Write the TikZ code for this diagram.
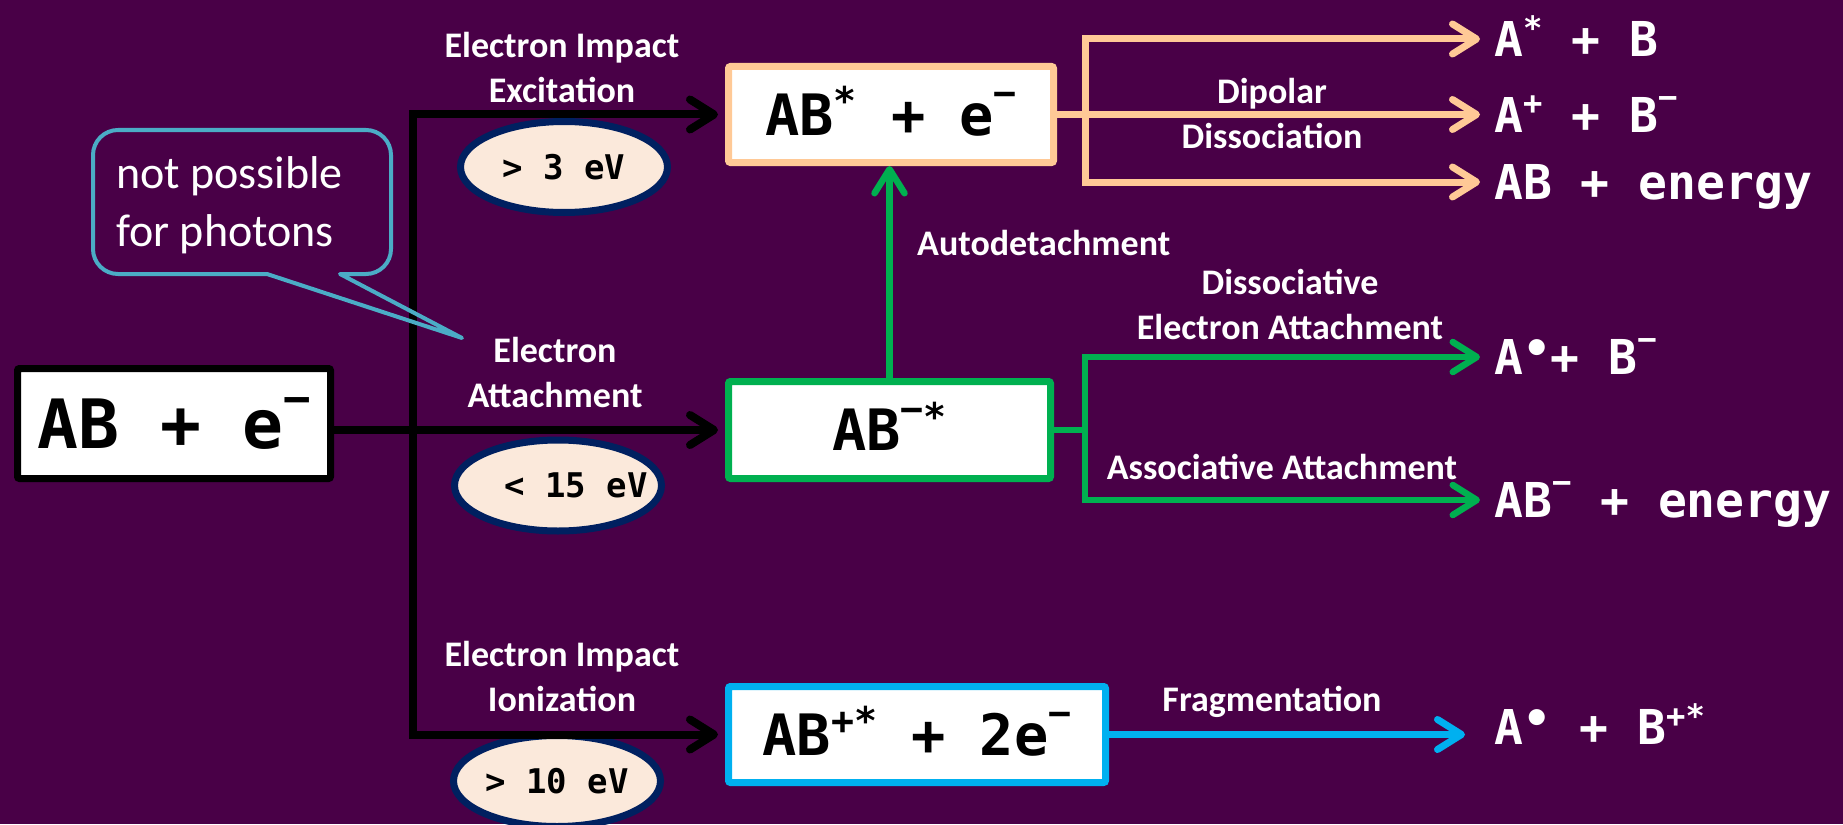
\documentclass[tikz,border=0pt]{standalone}
\usepackage{fontspec}
\setmainfont{Carlito}
\newfontfamily\monofam{DejaVu Sans Mono}
\usetikzlibrary{arrows.meta,shapes.geometric}
\definecolor{bgpurple}{HTML}{490047}
\definecolor{peach}{HTML}{FFC996}
\definecolor{grn}{HTML}{00B050}
\definecolor{cyn}{HTML}{00B0F0}
\definecolor{navy}{HTML}{002060}
\definecolor{cream}{HTML}{FBE9DB}
\definecolor{aqua}{HTML}{4BACC6}
\newcommand\supx[2]{\raisebox{#1}{\scalebox{.67}{#2}}}
\newcommand\raddot{\raisebox{.2em}{\scalebox{.95}{•}}}
\begin{document}
\begin{tikzpicture}[x=1pt,y=-1pt,
  >={Straight Barb[length=24pt,width=30pt,round]},
  box/.style={draw=#1, fill=white, line width=7pt, inner sep=0pt, rounded corners=2pt, text=black},
  bigtxt/.style={font=\monofam\bfseries\fontsize{57}{60}\selectfont, text height=41.5pt, text depth=0pt},
  prod/.style={anchor=west, inner sep=0pt, text=white, font=\monofam\bfseries\fontsize{48}{52}\selectfont, text height=35pt, text depth=0pt},
  lbl/.style={inner sep=0pt, text=white, font=\bfseries\fontsize{36}{45}\selectfont},
  lbltwo/.style={lbl, align=center, anchor=north},
  lblone/.style={lbl, anchor=base},
  oval/.style={ellipse, draw=navy, fill=cream, line width=7pt, minimum width=207pt, minimum height=91pt, inner sep=0pt, text=black, font=\monofam\bfseries\fontsize{34}{38}\selectfont, text height=24.8pt, text depth=0pt},
  blk/.style={draw=black, line width=8pt},
  pch/.style={draw=peach, line width=7pt},
  gline/.style={draw=grn, line width=6.5pt},
  cline/.style={draw=cyn, line width=7pt},
  callout/.style={draw=aqua, line width=4pt, line join=round}
]
\useasboundingbox (0,0) rectangle (1843,824);
\fill[bgpurple] (0,0) rectangle (1843,824);

% helper coordinates for the vertical trunks
\coordinate (jx) at (413,0);
\coordinate (px) at (1085,0);
\coordinate (gx) at (1085,0);

% boxes
\node[box=black, font=\monofam\bfseries\fontsize{68}{72}\selectfont, text height=49.6pt, text depth=0pt,
      minimum width=313pt, minimum height=110pt] (main) at (174,423.5) {AB + e\supx{.5em}{−}};
\node[box=peach, bigtxt, minimum width=325pt, minimum height=96pt] (ab1) at (891,114.5)
      {AB\supx{.36em}{*} + e\supx{.5em}{−}};
\node[box=grn, bigtxt, minimum width=322pt, minimum height=97pt] (ab2) at (889.5,430)
      {AB\supx{.5em}{−}\supx{.36em}{*}};
\node[box=cyn, bigtxt, minimum width=377pt, minimum height=96pt] (ab3) at (917,734.5)
      {AB\supx{.36em}{+}\supx{.36em}{*} + 2e\supx{.5em}{−}};

% products
\node[prod] (r1) at (1494,39) {A\supx{.36em}{*} + B};
\node[prod] (r2) at (1494,114.5) {A\supx{.36em}{+} + B\supx{.5em}{−}};
\node[prod] (r3) at (1494,182) {AB + energy};
\node[prod] (r4) at (1494,357) {A\raddot+ B\supx{.5em}{−}};
\node[prod] (r5) at (1494,500) {AB\supx{.5em}{−} + energy};
\node[prod] (r6) at (1494,727) {A\raddot{} + B\supx{.36em}{+}\supx{.36em}{*}};

% energy ovals
\node[oval] (e1) at (564,167) {> 3 eV};
\node[oval] (e2) at (558,485.5) {\makebox[0pt]{\hspace{36pt}< 15 eV}};
\node[oval] (e3) at (557,781) {> 10 eV};

% labels
\node[lbltwo] (lei) at (562,27.4) {\rule{0pt}{30pt}Electron Impact\\Excitation};
\node[lbltwo] (lea) at (555,332.4) {\rule{0pt}{30pt}Electron\\Attachment};
\node[lbltwo] (lii) at (562,636.4) {\rule{0pt}{30pt}Electron Impact\\Ionization};
\node[lbltwo] (ldd) at (1272,73.4) {\rule{0pt}{30pt}Dipolar\\Dissociation};
\node[lbltwo] (ldea) at (1290,264.4) {\rule{0pt}{30pt}Dissociative\\Electron Attachment};
\node[lblone, anchor=base west] (lad) at (917,255.4) {Autodetachment};
\node[lblone] (laa) at (1282,479.4) {Associative Attachment};
\node[lblone] (lfr) at (1272,711.4) {Fragmentation};

% black connectors
\draw[blk,<->,shorten <=7pt,shorten >=7pt] (ab1.west) -- (jx |- ab1.west) -- (jx |- ab3.west) -- (ab3.west);
\draw[blk,->,shorten >=7pt] (main.east |- ab2.west) -- (ab2.west);

% peach connectors
\draw[pch] (ab1.east) -- (px |- ab1.east);
\draw[pch,->,shorten >=14pt] (px |- r2.west) -- (r2.west);
\draw[pch,<->,shorten <=14pt,shorten >=14pt] (r1.west) -- (px |- r1.west) -- (px |- r3.west) -- (r3.west);

% green connectors
\draw[gline,->] (ab2.north) -- (ab2.north |- ab1.south);
\draw[gline] (ab2.east) -- (gx |- ab2.east);
\draw[gline,<->,shorten <=14pt,shorten >=14pt] (r4.west) -- (gx |- r4.west) -- (gx |- r5.west) -- (r5.west);

% cyan connector
\draw[cline,->,shorten >=29pt] (ab3.east) -- (ab3.east -| r6.west);

% callout
\draw[callout] (340,274) -- (366,274) .. controls (379.8,274) and (391,262.8) .. (391,249)
  -- (391,155) .. controls (391,141.2) and (379.8,130) .. (366,130)
  -- (118,130) .. controls (104.2,130) and (93,141.2) .. (93,155)
  -- (93,249) .. controls (93,262.8) and (104.2,274) .. (118,274)
  -- (267,274) -- (462,338) -- cycle;
\node[inner sep=0pt, anchor=north west, align=left, text=white, font=\fontsize{46}{58}\selectfont]
  (note) at (116,148) {\rule{0pt}{40pt}not possible\\for photons};
\end{tikzpicture}
\end{document}
